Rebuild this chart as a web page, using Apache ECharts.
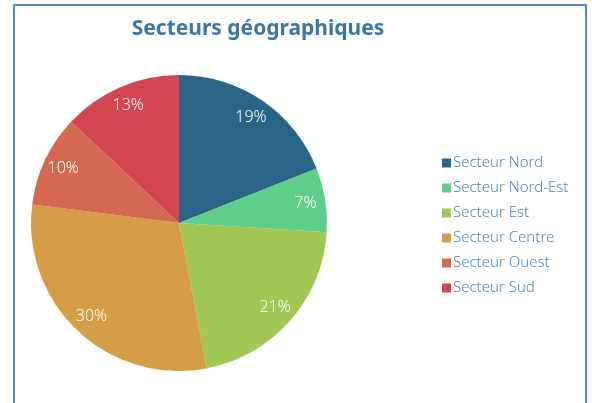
<!DOCTYPE html>
<html>
<head>
<meta charset="utf-8">
<script src="https://cdn.jsdelivr.net/npm/echarts@6/dist/echarts.min.js"></script>
<style>
  html, body { margin: 0; padding: 0; background: #fff; }
  #chart { width: 592px; height: 403px; }
</style>
</head>
<body>
<div id="chart"></div>
<script>
// données du graphique
var secteurs = ['Secteur Nord', 'Secteur Nord-Est', 'Secteur Est', 'Secteur Centre', 'Secteur Ouest', 'Secteur Sud']
var parts = [19, 7, 21, 30, 10, 13]
var couleurs = ['#296586', '#5ECF8A', '#A0C754', '#D49D46', '#D46851', '#D34651']

var pieData = secteurs.map(function(name, i) {
  return { name: name, value: parts[i], itemStyle: { color: couleurs[i] } }
})

var myChart = echarts.init(document.getElementById('chart'))
myChart.setOption({
  animation: false,
  title: {
    text: 'Secteurs géographiques',
    left: 253,
    top: 14,
    textAlign: 'center',
    textStyle: {
      fontFamily: 'Noto Sans',
      fontWeight: 'bold',
      fontSize: 21,
      color: '#3A77A5'
    }
  },
  legend: {
    orient: 'vertical',
    left: 437,
    top: 148,
    itemWidth: 9,
    itemHeight: 9,
    itemGap: 5,
    icon: 'rect',
    textStyle: {
      fontFamily: 'Noto Sans',
      fontSize: 15,
      fontWeight: 300,
      color: '#4A87B5',
      lineHeight: 20,
      padding: [0, 0, 0, -3]
    },
    data: secteurs
  },
  graphic: [
    {
      type: 'rect',
      shape: { x: 14, y: 5, width: 572, height: 430 },
      style: { fill: 'none', stroke: '#5B86C5', lineWidth: 2 },
      silent: true
    }
  ],
  series: [
    {
      type: 'pie',
      center: [179, 223],
      radius: 148,
      startAngle: 90,
      clockwise: true,
      label: { show: false },
      labelLine: { show: false },
      emphasis: { disabled: true },
      data: pieData
    },
    {
      // anneau invisible pour placer les pourcentages près du bord
      type: 'pie',
      center: [179, 223],
      radius: [102, 148],
      startAngle: 90,
      clockwise: true,
      silent: true,
      itemStyle: { color: 'rgba(0,0,0,0)' },
      label: {
        show: true,
        position: 'inside',
        formatter: '{c}%',
        color: '#fff',
        fontFamily: 'Noto Sans',
        fontWeight: 300,
        fontSize: 16
      },
      labelLine: { show: false },
      data: secteurs.map(function(name, i) {
        return { name: name, value: parts[i] }
      })
    }
  ]
})
</script>
</body>
</html>
